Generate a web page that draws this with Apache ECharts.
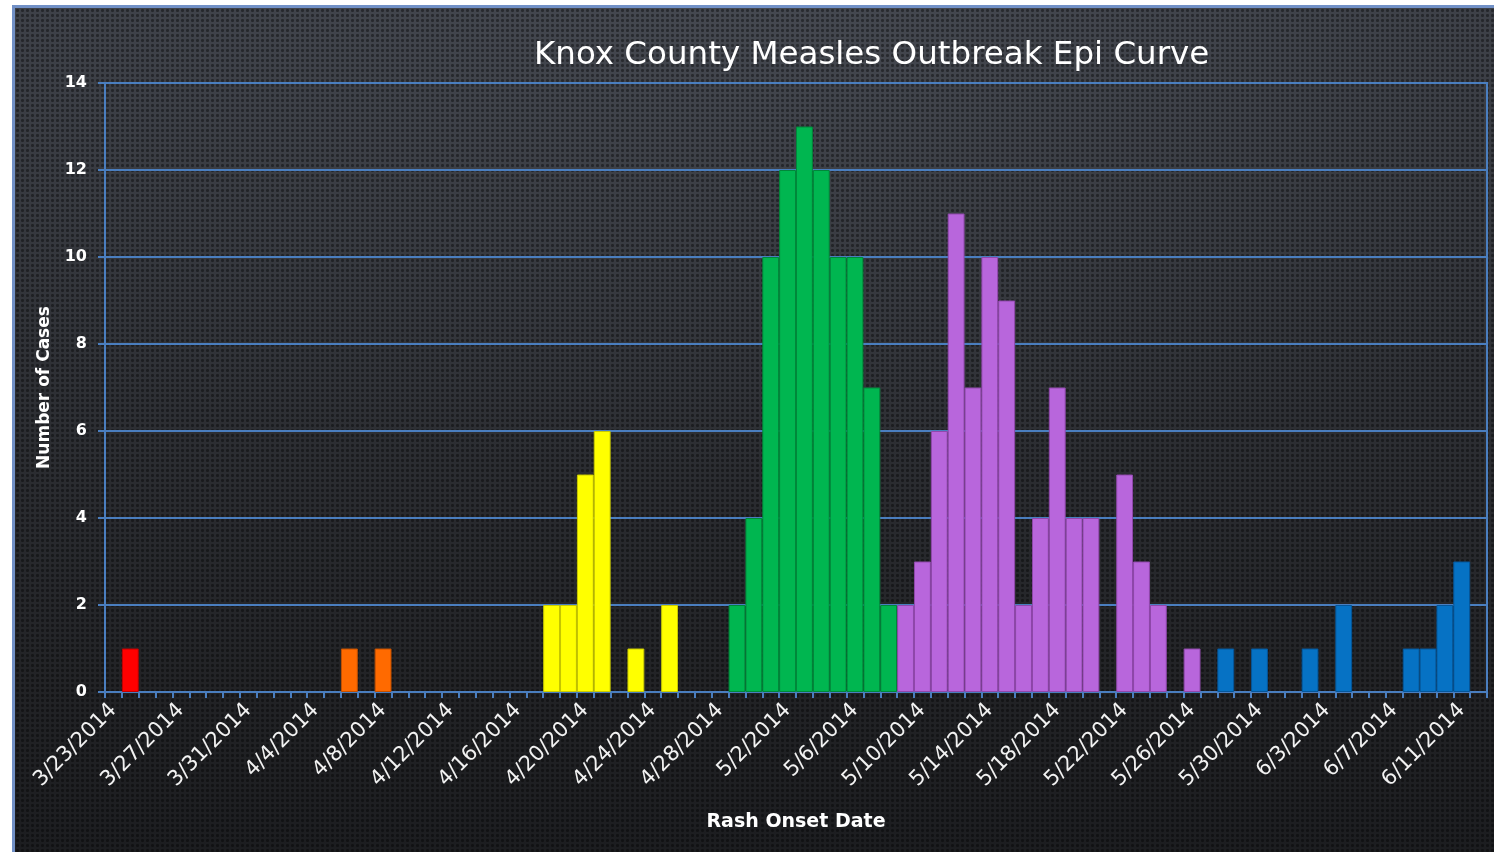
<!DOCTYPE html>
<html>
<head>
<meta charset="utf-8">
<script src="https://cdn.jsdelivr.net/npm/echarts@6/dist/echarts.min.js"></script>
<style>
  html, body { margin: 0; padding: 0; background: #ffffff; width: 1494px; height: 852px; overflow: hidden; }
  #bg {
    position: absolute; left: 12px; top: 5px; width: 1482px; height: 847px;
    box-sizing: border-box;
    border-left: 3px solid #7190c6; border-top: 3px solid #7190c6;
    background:
      radial-gradient(circle at 2.5px 2.5px, rgba(0,0,0,0.40) 1.2px, rgba(0,0,0,0) 1.9px) 0 0 / 5px 5px,
      radial-gradient(ellipse 75% 55% at 50% 0%, rgba(95,100,110,0.30), rgba(0,0,0,0) 100%),
      linear-gradient(to bottom, #3a3d44 0%, #2e3035 45%, #222326 80%, #1c1d20 100%);
  }
  #chart { position: absolute; left: 0; top: 0; width: 1494px; height: 852px; }
</style>
</head>
<body>
<div id="bg"></div>
<div id="chart"></div>
<script>
// Category labels (rash onset dates, one per day)
const dates = [
  '3/23/2014','3/24/2014','3/25/2014','3/26/2014','3/27/2014','3/28/2014','3/29/2014','3/30/2014','3/31/2014',
  '4/1/2014','4/2/2014','4/3/2014','4/4/2014','4/5/2014','4/6/2014','4/7/2014','4/8/2014','4/9/2014','4/10/2014',
  '4/11/2014','4/12/2014','4/13/2014','4/14/2014','4/15/2014','4/16/2014','4/17/2014','4/18/2014','4/19/2014',
  '4/20/2014','4/21/2014','4/22/2014','4/23/2014','4/24/2014','4/25/2014','4/26/2014','4/27/2014','4/28/2014',
  '4/29/2014','4/30/2014','5/1/2014','5/2/2014','5/3/2014','5/4/2014','5/5/2014','5/6/2014','5/7/2014','5/8/2014',
  '5/9/2014','5/10/2014','5/11/2014','5/12/2014','5/13/2014','5/14/2014','5/15/2014','5/16/2014','5/17/2014',
  '5/18/2014','5/19/2014','5/20/2014','5/21/2014','5/22/2014','5/23/2014','5/24/2014','5/25/2014','5/26/2014',
  '5/27/2014','5/28/2014','5/29/2014','5/30/2014','5/31/2014','6/1/2014','6/2/2014','6/3/2014','6/4/2014',
  '6/5/2014','6/6/2014','6/7/2014','6/8/2014','6/9/2014','6/10/2014','6/11/2014','6/12/2014'
];

// Case counts per colour group: [date, cases]
const redCases = [['3/24/2014', 1]];
const orangeCases = [['4/6/2014', 1], ['4/8/2014', 1]];
const yellowCases = [['4/18/2014', 2], ['4/19/2014', 2], ['4/20/2014', 5], ['4/21/2014', 6],
  ['4/23/2014', 1], ['4/25/2014', 2]];
const greenCases = [['4/29/2014', 2], ['4/30/2014', 4], ['5/1/2014', 10], ['5/2/2014', 12], ['5/3/2014', 13],
  ['5/4/2014', 12], ['5/5/2014', 10], ['5/6/2014', 10], ['5/7/2014', 7], ['5/8/2014', 2]];
const purpleCases = [['5/9/2014', 2], ['5/10/2014', 3], ['5/11/2014', 6], ['5/12/2014', 11], ['5/13/2014', 7],
  ['5/14/2014', 10], ['5/15/2014', 9], ['5/16/2014', 2], ['5/17/2014', 4], ['5/18/2014', 7], ['5/19/2014', 4],
  ['5/20/2014', 4], ['5/22/2014', 5], ['5/23/2014', 3], ['5/24/2014', 2], ['5/26/2014', 1]];
const blueCases = [['5/28/2014', 1], ['5/30/2014', 1], ['6/2/2014', 1], ['6/4/2014', 2],
  ['6/8/2014', 1], ['6/9/2014', 1], ['6/10/2014', 2], ['6/11/2014', 3]];

const yTicks = [0, 2, 4, 6, 8, 10, 12, 14];

const FONT = 'DejaVu Sans';
const BLUE = '#4a7ebf';

const groups = [
  { name: 'Red', data: redCases, color: '#ff0000', border: '#c00000' },
  { name: 'Orange', data: orangeCases, color: '#ff6a00', border: '#c25000' },
  { name: 'Yellow', data: yellowCases, color: '#ffff00', border: '#c9c900' },
  { name: 'Green', data: greenCases, color: '#00b650', border: '#00883a' },
  { name: 'Purple', data: purpleCases, color: '#b866dc', border: '#9048ac' },
  { name: 'Blue', data: blueCases, color: '#0672c4', border: '#04569a' }
];

const chart = echarts.init(document.getElementById('chart'), null, { renderer: 'canvas' });
chart.setOption({
  animation: false,
  backgroundColor: 'transparent',
  title: {
    text: 'Knox County Measles Outbreak Epi Curve',
    left: 529, top: 34,
    textStyle: { color: '#ffffff', fontSize: 32.5, fontWeight: 'normal', fontFamily: FONT }
  },
  grid: {
    left: 105, top: 83, right: 7, bottom: 160,
    show: true, borderColor: BLUE, borderWidth: 2, backgroundColor: 'transparent'
  },
  xAxis: {
    type: 'category',
    data: dates,
    boundaryGap: true,
    axisLine: { show: true, lineStyle: { color: BLUE, width: 2 } },
    axisTick: { show: true, interval: 0, length: 6, alignWithLabel: false, lineStyle: { color: BLUE, width: 2 } },
    axisLabel: { interval: 3, rotate: 45, color: '#f2f2f2', fontSize: 21, fontFamily: FONT, margin: 15 },
    splitLine: { show: false },
    name: 'Rash Onset Date',
    nameLocation: 'middle',
    nameGap: 121,
    nameTextStyle: { color: '#ffffff', fontSize: 19, fontWeight: 'bold', fontFamily: FONT }
  },
  yAxis: {
    type: 'value',
    min: yTicks[0], max: yTicks[yTicks.length - 1], interval: 2,
    axisLine: { show: true, lineStyle: { color: BLUE, width: 2 } },
    axisTick: { show: true, length: 7, lineStyle: { color: BLUE, width: 2 } },
    axisLabel: { color: '#ffffff', fontSize: 16, fontWeight: 'bold', fontFamily: FONT, margin: 18 },
    splitLine: { show: true, lineStyle: { color: BLUE, width: 2 } },
    name: 'Number of Cases',
    nameLocation: 'middle',
    nameGap: 52,
    nameTextStyle: { color: '#ffffff', fontSize: 17, fontWeight: 'bold', fontFamily: FONT }
  },
  series: groups.map(g => ({
    type: 'bar',
    name: g.name,
    data: g.data,
    barWidth: '100%',
    barGap: '-100%',
    barCategoryGap: '0%',
    itemStyle: { color: g.color, borderColor: g.border, borderWidth: 1 }
  }))
});
</script>
</body>
</html>
